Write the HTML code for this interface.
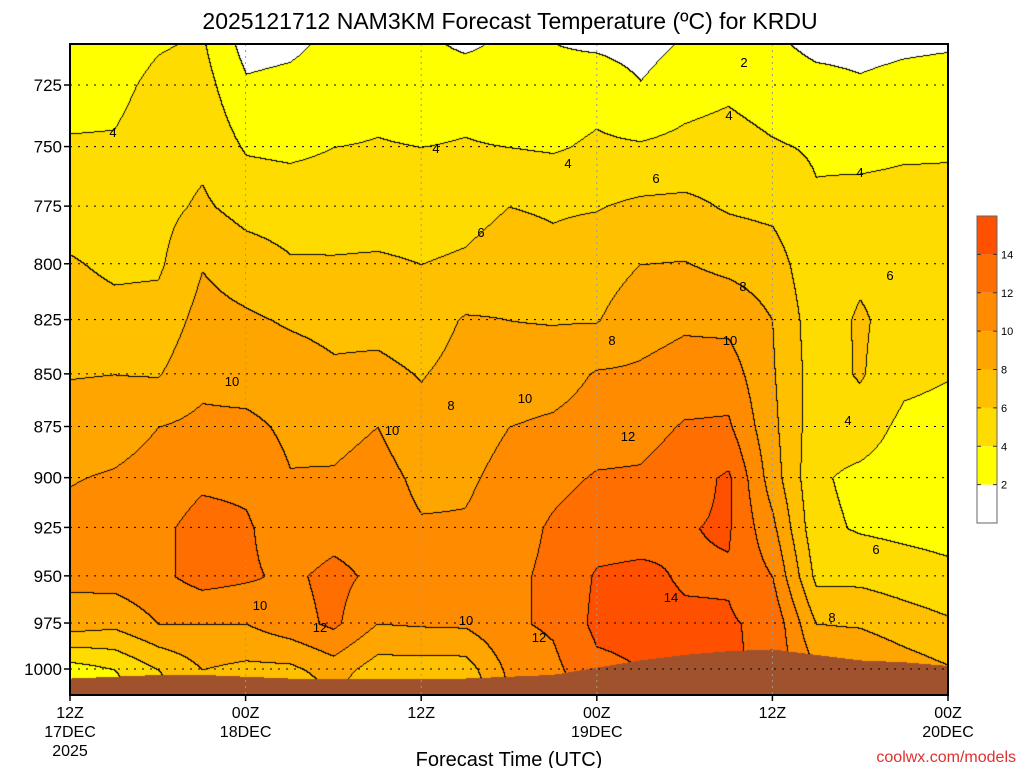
<!DOCTYPE html>
<html><head><meta charset="utf-8">
<style>
body{margin:0;background:#fff;width:1024px;height:768px;overflow:hidden;font-family:"Liberation Sans",sans-serif;}
#wrap{position:relative;width:1024px;height:768px;}
canvas{position:absolute;left:70px;top:44px;}
svg{position:absolute;left:0;top:0;}
</style></head>
<body>
<div id="wrap">
<canvas id="cv" width="878" height="651"></canvas>
<svg id="sv" width="1024" height="768"></svg>
</div>
<script>
// ---- data ----
const levels = [708,725,750,775,800,825,850,875,900,925,950,975,1000,1015];
const times = [0,3,6,9,12,15,18,21,24,27,30,33,36,39,42,45,48,51,54,57,60]; // hours from 12Z 17DEC
const temps = [ // temps[timeIndex][levelIndex]
[2.5,3.3,4.2,5,6.2,7,7.9,9,9.9,10.5,10.5,9,3,1.5],
[3,3.5,4.2,4.8,5.6,6.7,8,9.2,10.2,10.8,10.8,8.5,4,3],
[3.8,4.5,5,5.4,5.7,6.8,7.9,10,10.7,11.5,11.5,10,6,5],
[4.2,4.8,5.5,6.3,7.9,8.7,9.4,10.5,11.6,12.8,12.8,10,8,7],
[1.2,2.3,3.8,5.3,7,8.3,9.1,10.5,11.5,12.3,12.3,10,7.5,6],
[1.5,2.6,3.6,5.1,6.2,7.8,8.9,9.6,10.1,10.6,11.6,11.2,7.5,6],
[2.5,3,4,5,6.2,7.5,8.3,9.4,10.2,11.2,12.6,12.4,9,8],
[3,3.5,4.1,5,6.3,7.4,8.5,10,10.8,11,11.5,10,7,6],
[2.5,3.2,4,5,6,7,7.9,8.6,9.5,10.2,10.7,10.2,7,6],
[1.5,3.5,4.1,5.3,6.3,8.2,8.7,9.2,9.7,10.2,10.8,10.3,7,6],
[2.5,3,4,6,7,8,8.8,10,10.6,11,11.5,11.7,10.5,10],
[2,2.8,3.8,5.8,6.5,7.9,9,10.4,11.4,12.3,12.5,12.3,11.5,11],
[1.6,3.3,4.3,5.9,7.1,7.9,10.2,11,12.2,13.2,14.2,14.5,13.5,13],
[1.2,2.1,4.2,6.4,8,9.2,10.3,11.2,12.3,13.3,14.4,14.6,14,14],
[2.2,3.2,4.5,6.5,8.1,9.7,10.8,12.2,13.2,13.9,13.8,14.3,14.2,14],
[2.5,3.6,4.8,5.8,7.5,9.5,11,12.3,14.3,14.2,13.8,14.2,14.3,14],
[2.3,3,4.2,5.5,7,8,8.2,8.5,9,10.5,12,13.5,13.5,13],
[1.5,2.6,3.8,4.2,4.5,4.8,5,4.8,4.3,4.5,5.5,8,10,10],
[1.5,2.2,3.6,4.5,5.5,6.3,6.2,5,3.5,3.8,5.5,7.8,10,10],
[1.7,2.5,3.8,4.5,5.2,5,4.5,3.5,3,3.5,5,7,9,9.5],
[1.8,2.7,3.9,4.3,4.8,4.6,4.1,3.3,3,3.3,4.5,6.3,8.2,8.5]
];
const surfacePressure = [1005,1004,1003,1003,1004,1005,1005,1005,1005,1005,1004,1003,999,995,992,990,989,992,995,996,998];
const binEdges = [2,4,6,8,10,12,14];
const binColors = ["#ffffff","#ffff00","#ffdc00","#ffc000","#ffa500","#ff8c00","#ff6e00","#ff5000"];
const yTickLabels = [725,750,775,800,825,850,875,900,925,950,975,1000];
const xTickHours = [0,12,24,36,48,60];
const xTickLines = [["12Z","17DEC","2025"],["00Z","18DEC"],["12Z"],["00Z","19DEC"],["12Z"],["00Z","20DEC"]];
const cbValues = [2,4,6,8,10,12,14];
const contourLabels = [["4",113,132],["4",436,148],["4",568,163],["6",656,178],["4",729,115],["2",744,62],["4",860,172],["6",481,232],["6",890,275],["8",743,286],["8",612,340],["10",730,340],["10",232,381],["8",451,405],["10",525,398],["10",392,430],["12",628,436],["4",848,420],["6",876,549],["10",260,605],["12",320,627],["10",466,620],["12",539,637],["14",671,597],["8",832,617]];

// ---- axes ----
const X0=70,X1=948,Y0=44,Y1=695,HOURS=60;
const lnRef=Math.log(725), pxPerLn=1816, yRef=85;
function xOf(h){return X0+(h/HOURS)*(X1-X0);}
function yOf(p){return yRef+(Math.log(p)-lnRef)*pxPerLn;}
function pOf(y){return Math.exp(lnRef+(y-yRef)/pxPerLn);}

// ---- field ----
const cv=document.getElementById('cv'),ctx=cv.getContext('2d');
const W=cv.width,H=cv.height;
const img=ctx.createImageData(W,H);
const lnL=levels.map(Math.log);
function hex(c){return [parseInt(c.slice(1,3),16),parseInt(c.slice(3,5),16),parseInt(c.slice(5,7),16)];}
const rgb=binColors.map(hex);
const bins=new Int8Array(W*H);
for(let py=0;py<H;py++){
  const p=pOf(py+Y0),lp=Math.log(p);
  let j=0;while(j<lnL.length-2&&lp>lnL[j+1])j++;
  let fy=(lp-lnL[j])/(lnL[j+1]-lnL[j]);fy=Math.max(0,Math.min(1,fy));
  for(let px=0;px<W;px++){
    const h=(px/(W-1))*HOURS;
    let i=0;while(i<times.length-2&&h>times[i+1])i++;
    const fx=Math.max(0,Math.min(1,(h-times[i])/(times[i+1]-times[i])));
    const ps=surfacePressure[i]*(1-fx)+surfacePressure[i+1]*fx;
    if(p>ps){bins[py*W+px]=-1;continue;}
    const t=(temps[i][j]*(1-fx)+temps[i+1][j]*fx)*(1-fy)+(temps[i][j+1]*(1-fx)+temps[i+1][j+1]*fx)*fy;
    let b=0;while(b<binEdges.length&&t>=binEdges[b])b++;
    bins[py*W+px]=b;
  }
}
for(let py=0;py<H;py++)for(let px=0;px<W;px++){
  const k=py*W+px,b=bins[k];let c;
  if(b<0)c=[160,82,45];
  else{
    const l=px>0?bins[k-1]:b,u=py>0?bins[k-W]:b;
    if((l>=0&&l!==b)||(u>=0&&u!==b))c=[0,0,0];else c=rgb[b];
  }
  img.data[k*4]=c[0];img.data[k*4+1]=c[1];img.data[k*4+2]=c[2];img.data[k*4+3]=255;
}
ctx.putImageData(img,0,0);

// ---- overlay ----
const sv=document.getElementById('sv'),NS='http://www.w3.org/2000/svg';
function mk(tag,attrs,parent){const e=document.createElementNS(NS,tag);for(const k in attrs)e.setAttribute(k,attrs[k]);(parent||sv).appendChild(e);return e;}
yTickLabels.forEach(p=>{
  const y=yOf(p);
  const g=mk('line',{x1:X0,x2:X1,y1:y,y2:y,stroke:'#000','stroke-width':1,'stroke-dasharray':'2,6'});
  
  
  mk('line',{x1:X0-6,x2:X0,y1:y,y2:y,stroke:'#000','stroke-width':1.5});
  const t=mk('text',{x:X0-8,y:y+6,'text-anchor':'end','font-size':17,fill:'#000'});
  t.textContent=p;
  
  
});
xTickHours.forEach((h,i)=>{
  const x=xOf(h);
  if(i>0&&i<xTickHours.length-1){
    const g=mk('line',{x1:x,x2:x,y1:Y0,y2:Y1,stroke:'#999','stroke-width':1,'stroke-dasharray':'2,4'});
    
    
  }
  mk('line',{x1:x,x2:x,y1:Y1,y2:Y1+6,stroke:'#000','stroke-width':1.5});
  xTickLines[i].forEach((s,k)=>{
    const t=mk('text',{x:x,y:718+k*19,'text-anchor':'middle','font-size':16,fill:'#000'});
    t.textContent=s;
    
    
  });
});
contourLabels.forEach(c=>{
  const t=mk('text',{x:c[1],y:c[2]+5,'text-anchor':'middle','font-size':13,fill:'#000'});
  t.textContent=c[0];
  
  
});
const fr=mk('rect',{x:X0,y:Y0,width:X1-X0,height:Y1-Y0,fill:'none',stroke:'#000','stroke-width':2});


// colorbar
const CBX=977,CBW=20,CBT=216,CBB=523,nb=binColors.length,bh=(CBB-CBT)/nb;
binColors.forEach((c,i)=>{
  const r=mk('rect',{x:CBX,y:CBB-(i+1)*bh,width:CBW,height:bh,fill:c});
  
  
});
mk('rect',{x:CBX,y:CBT,width:CBW,height:CBB-CBT,fill:'none',stroke:'#666','stroke-width':1});
cbValues.forEach((v,i)=>{
  const y=CBB-(i+1)*bh;
  mk('line',{x1:CBX,x2:CBX+4,y1:y,y2:y,stroke:'#333'});
  mk('line',{x1:CBX+CBW-4,x2:CBX+CBW,y1:y,y2:y,stroke:'#333'});
  const t=mk('text',{x:CBX+CBW+4,y:y+4,'font-size':11,fill:'#000'});
  t.textContent=v;
  
  
});
</script>
<svg width="1024" height="768" style="position:absolute;left:0;top:0;pointer-events:none">
<text x="510" y="29" text-anchor="middle" font-size="23" font-family="Liberation Sans, sans-serif">2025121712 NAM3KM Forecast Temperature (ºC) for KRDU</text>
<text x="509" y="766" text-anchor="middle" font-size="20" font-family="Liberation Sans, sans-serif">Forecast Time (UTC)</text>
<text x="1016" y="762" text-anchor="end" font-size="16" fill="#e03030" font-family="Liberation Sans, sans-serif">coolwx.com/models</text>
</svg>
</body></html>
